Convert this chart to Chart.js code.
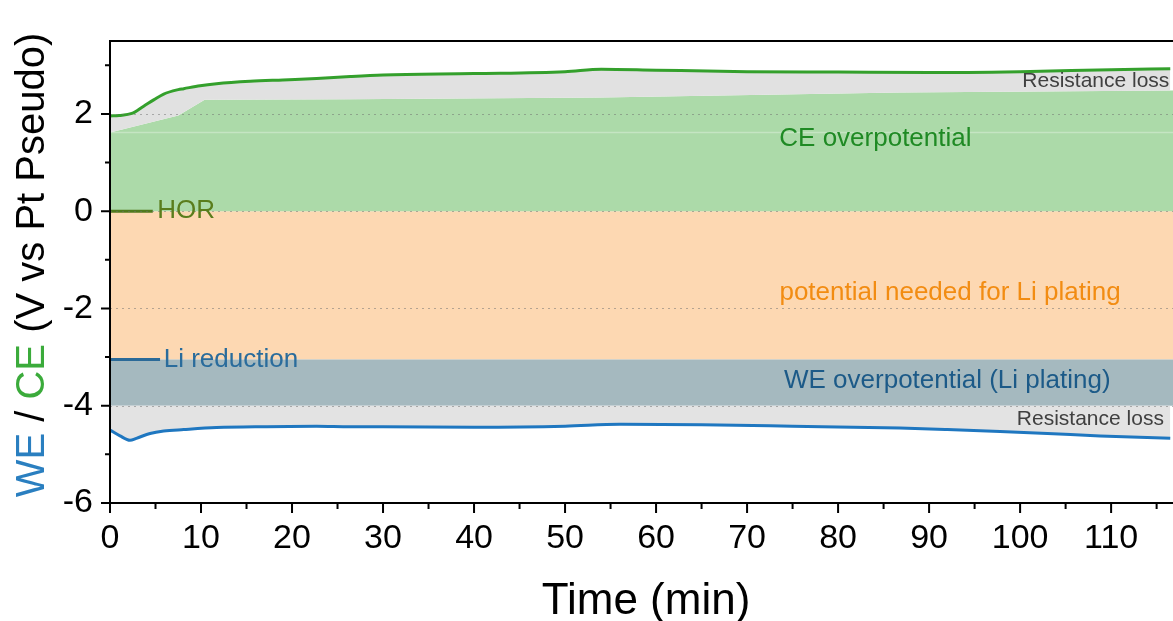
<!DOCTYPE html>
<html><head><meta charset="utf-8">
<script src="https://cdn.jsdelivr.net/npm/chart.js@4/dist/chart.umd.min.js"></script>
<style>html,body{margin:0;padding:0;background:#fff;}canvas{display:block;}</style>
</head><body>
<canvas id="c" width="1173" height="621"></canvas>
<script>
// ---- data ----
const ceTime = [0, 1, 2.4, 3.7, 4.8, 5.9, 7.5, 8.1, 9.9, 11.7, 15.4, 19, 22.7, 26.4, 30, 40, 50, 54, 60, 70, 80, 90, 100, 110, 116.5];
const ceVolt = [1.96, 1.97, 2.01, 2.16, 2.29, 2.41, 2.50, 2.52, 2.58, 2.62, 2.67, 2.70, 2.73, 2.77, 2.80, 2.83, 2.87, 2.92, 2.90, 2.87, 2.86, 2.85, 2.87, 2.91, 2.93];
const ceAreaTime = [0, 7.5, 10.4, 26.4, 54, 86.8, 116.8];
const ceAreaTop = [1.62, 1.97, 2.29, 2.30, 2.34, 2.44, 2.48];
const weTime = [0, 1.1, 2.2, 2.9, 4.4, 5.9, 8.1, 11.7, 17.2, 22.7, 26.4, 30, 40, 50, 56, 65, 75, 86.8, 92, 97.8, 103, 108.8, 116.5];
const weVolt = [-4.50, -4.62, -4.71, -4.67, -4.57, -4.52, -4.49, -4.45, -4.43, -4.42, -4.43, -4.43, -4.44, -4.42, -4.38, -4.39, -4.42, -4.46, -4.49, -4.53, -4.57, -4.62, -4.67];
const horLevel = 0;
const liLevel = -3.05;
const weLimit = -4.0;
const faintLevel = 1.62;
const horMarkTime = [0, 4.7];
const liMarkTime = [0, 5.5];
const xMin = 0, xMax = 116.8;
const yMin = -6, yMax = 3.5;
const xTickValues = [0,5,10,15,20,25,30,35,40,45,50,55,60,65,70,75,80,85,90,95,100,105,110,115];
const yTickValues = [-6,-5,-4,-3,-2,-1,0,1,2,3];
const gridLevels = [2, 0, -2, -4];

const pts = (xs, ys) => xs.map((x, i) => ({x, y: ys[i]}));
const flat = (xs, v) => xs.map(x => ({x, y: v}));
const FONT = "'Liberation Sans', Arial, Helvetica, sans-serif";

const base = {pointRadius: 0, pointHoverRadius: 0, borderWidth: 0, tension: 0};

const datasets = [
  Object.assign({}, base, {data: flat([xMin, xMax], horLevel), fill: {value: liLevel}, backgroundColor: '#fdd8b2', borderColor: 'rgba(0,0,0,0)', order: 20}),
  Object.assign({}, base, {data: pts(ceAreaTime, ceAreaTop), fill: {value: horLevel}, backgroundColor: '#acdaa9', borderColor: 'rgba(0,0,0,0)', order: 19}),
  Object.assign({}, base, {data: pts(ceTime, ceVolt), fill: 1, backgroundColor: '#e1e1e1', borderColor: '#34a02c', borderWidth: 3, cubicInterpolationMode: 'monotone', order: 18}),
  Object.assign({}, base, {data: flat([xMin, xMax], liLevel), fill: {value: weLimit}, backgroundColor: '#a5b9bf', borderColor: 'rgba(0,0,0,0)', order: 17}),
  Object.assign({}, base, {data: pts(weTime, weVolt), fill: {value: weLimit}, backgroundColor: '#e3e3e3', borderColor: '#1f77c0', borderWidth: 3, cubicInterpolationMode: 'monotone', order: 16}),
  Object.assign({}, base, {data: flat([xMin, xMax], faintLevel), fill: false, borderColor: 'rgba(255,255,255,0.3)', borderWidth: 1.5, order: 15}),
  Object.assign({}, base, {data: flat(horMarkTime, horLevel), fill: false, borderColor: '#4f7a1e', borderWidth: 3, order: 2}),
  Object.assign({}, base, {data: flat(liMarkTime, liLevel), fill: false, borderColor: '#2b6a98', borderWidth: 3, order: 1})
];

const notes = [
  {text: 'CE overpotential', x: 84.1, y: 1.48, align: 'center', color: '#1f8a24', size: 26},
  {text: 'potential needed for Li plating', x: 92.3, y: -1.68, align: 'center', color: '#f28c12', size: 26},
  {text: 'WE overpotential (Li plating)', x: 92.0, y: -3.49, align: 'center', color: '#1c5a88', size: 26},
  {text: 'Resistance loss', x: 116.4, y: 2.67, align: 'right', color: '#404040', size: 21},
  {text: 'Resistance loss', x: 115.8, y: -4.27, align: 'right', color: '#404040', size: 21},
  {text: 'HOR', x: 5.2, y: 0, align: 'left', color: '#5a7d1c', size: 26},
  {text: 'Li reduction', x: 5.9, y: -3.06, align: 'left', color: '#2a6c9c', size: 26}
];

const decor = {
  id: 'decor',
  afterDatasetsDraw(chart) {
    const ctx = chart.ctx, a = chart.chartArea, xs = chart.scales.x, ys = chart.scales.y;
    ctx.save();
    ctx.strokeStyle = 'rgba(110,110,110,0.5)';
    ctx.lineWidth = 1;
    ctx.setLineDash([2, 4]);
    gridLevels.forEach(v => {
      const y = Math.round(ys.getPixelForValue(v)) + 0.5;
      ctx.beginPath(); ctx.moveTo(a.left, y); ctx.lineTo(a.right, y); ctx.stroke();
    });
    ctx.setLineDash([]);
    notes.forEach(n => {
      ctx.font = n.size + 'px ' + FONT;
      ctx.fillStyle = n.color;
      ctx.textAlign = n.align;
      ctx.textBaseline = 'middle';
      ctx.fillText(n.text, xs.getPixelForValue(n.x), ys.getPixelForValue(n.y));
    });
    ctx.restore();
  },
  afterDraw(chart) {
    const ctx = chart.ctx, a = chart.chartArea, xs = chart.scales.x, ys = chart.scales.y;
    ctx.save();
    ctx.strokeStyle = '#000';
    ctx.lineWidth = 2;
    ctx.beginPath();
    ctx.moveTo(a.left, a.top); ctx.lineTo(a.right, a.top);
    ctx.moveTo(a.left, a.top - 1); ctx.lineTo(a.left, a.bottom);
    ctx.moveTo(a.left, a.bottom); ctx.lineTo(a.right, a.bottom);
    ctx.stroke();
    ctx.beginPath();
    xTickValues.forEach(v => {
      const x = xs.getPixelForValue(v);
      const len = v % 10 === 0 ? 10 : 6;
      ctx.moveTo(x, a.bottom); ctx.lineTo(x, a.bottom + len);
    });
    yTickValues.forEach(v => {
      const y = ys.getPixelForValue(v);
      const len = v % 2 === 0 ? 9 : 5;
      ctx.moveTo(a.left, y); ctx.lineTo(a.left - len, y);
    });
    ctx.stroke();
    ctx.fillStyle = '#000';
    ctx.font = '44px ' + FONT;
    ctx.textAlign = 'center';
    ctx.textBaseline = 'alphabetic';
    ctx.fillText('Time (min)', 646, 614);
    const parts = [['WE', '#2a7fc0'], [' / ', '#000'], ['CE', '#3bab3b'], [' (V vs Pt Pseudo)', '#000']];
    ctx.font = '40px ' + FONT;
    ctx.translate(33, 265);
    ctx.rotate(-Math.PI / 2);
    const total = parts.reduce((s, p) => s + ctx.measureText(p[0]).width, 0);
    let cx = -total / 2;
    ctx.textAlign = 'left';
    ctx.textBaseline = 'middle';
    parts.forEach(p => {
      ctx.fillStyle = p[1];
      ctx.fillText(p[0], cx, 0);
      cx += ctx.measureText(p[0]).width;
    });
    ctx.restore();
  }
};

new Chart(document.getElementById('c'), {
  type: 'line',
  data: {datasets},
  options: {
    responsive: false,
    animation: false,
    layout: {padding: {top: 41, right: 0, left: 0, bottom: 0}},
    plugins: {legend: {display: false}, tooltip: {enabled: false}},
    scales: {
      x: {
        type: 'linear', min: xMin, max: xMax,
        afterBuildTicks: s => { s.ticks = xTickValues.map(v => ({value: v})); },
        afterFit: s => { s.height = 118; },
        grid: {display: false, drawTicks: false},
        border: {display: false},
        ticks: {
          autoSkip: false, maxRotation: 0, padding: 15, color: '#000',
          font: {family: FONT, size: 34},
          callback: v => (v % 10 === 0 ? String(v) : '')
        }
      },
      y: {
        type: 'linear', min: yMin, max: yMax,
        afterBuildTicks: s => { s.ticks = yTickValues.map(v => ({value: v})); },
        afterFit: s => { s.width = 110; },
        grid: {display: false, drawTicks: false},
        border: {display: false},
        ticks: {
          autoSkip: false, padding: 17, color: '#000',
          font: {family: FONT, size: 34},
          callback: v => (v % 2 === 0 ? String(v) : '')
        }
      }
    }
  },
  plugins: [decor]
});
</script>
</body></html>
